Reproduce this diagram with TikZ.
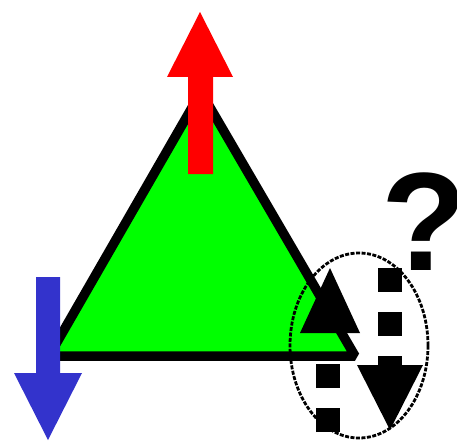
\documentclass[tikz,border=0pt]{standalone}
\usepackage{fontspec}
\newfontfamily\qmarkFont{Liberation Sans}
\definecolor{triFill}{HTML}{00FF00}
\definecolor{upFill}{HTML}{FF0000}
\definecolor{downFill}{HTML}{3333CC}
\definecolor{spinLine}{HTML}{000000}

\begin{document}
\begin{tikzpicture}[
    x=1pt, y=-1pt,
    triangle/.style={fill=triFill, draw=black, line width=9.5pt, line join=bevel},
    shaft/.style={draw=spinLine, line width=24pt, dash pattern=on 24pt off 20pt},
    ring/.style={draw=black, line width=2.8pt, dash pattern=on 4pt off 1.5pt},
    query/.style={font=\qmarkFont\bfseries\fontsize{140}{140}\selectfont,
                  inner sep=0pt, anchor=base},
  ]
  \useasboundingbox (0,0) rectangle (457,441);

  % TRIANGLE
  \draw[triangle] (201,92) -- (49,356) -- (355,356) -- cycle;

  % RED (up, top corner)
  \fill[upFill] (188,174) -- (188,77) -- (167,77) -- (200,12)
                -- (233,77) -- (213,77) -- (213,174) -- cycle;

  % BLUE (down, left corner)
  \fill[downFill] (36,277) -- (60,277) -- (60,373) -- (82,373)
                  -- (48,440) -- (14,373) -- (36,373) -- cycle;

  % FRUSTRATED SITE: up and down, both dashed
  \fill[spinLine] (300,333) -- (330,268) -- (360,333) -- cycle;
  \draw[shaft] (328,432) -- (328,364);
  \draw[shaft] (390,268) -- (390,366);
  \fill[spinLine] (357,365) -- (423,365) -- (390,430) -- cycle;

  % RING and QUESTION
  \draw[ring] (359,345.5) ellipse [x radius=69pt, y radius=92.5pt];
  \node[query] (query) at (424.5,270) {?};

\end{tikzpicture}
\end{document}
